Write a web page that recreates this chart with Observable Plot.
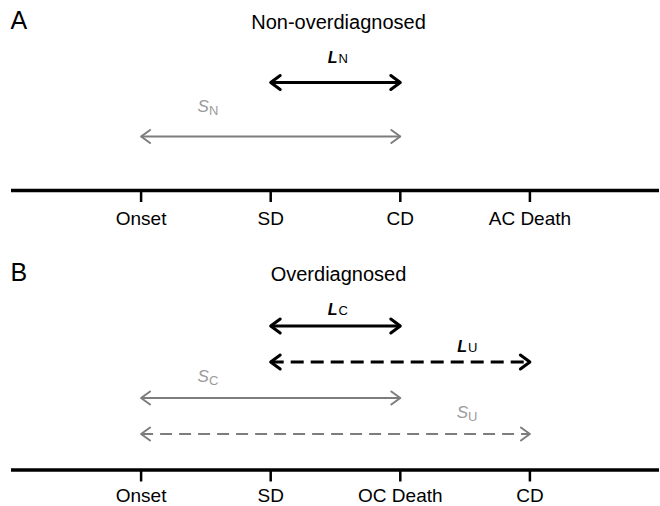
<!DOCTYPE html>
<html>
<head>
<meta charset="utf-8">
<script src="https://cdn.jsdelivr.net/npm/d3@7"></script>
<script src="https://cdn.jsdelivr.net/npm/@observablehq/plot@0.6"></script>
<style>
  html, body { margin: 0; padding: 0; background: #fff; }
  #chart { width: 660px; }
  #chart svg { display: block; }
</style>
</head>
<body>
<div id="chart"></div>
<script>
// ---------- data ----------
const panelLetters = ["A", "B"];
const panelTitles = ["Non-overdiagnosed", "Overdiagnosed"];
const eventPositions = [1, 2, 3, 4];
const eventLabelsA = ["Onset", "SD", "CD", "AC Death"];
const eventLabelsB = ["Onset", "SD", "OC Death", "CD"];

// panel A intervals
const namesA = ["L", "S"];
const subsA = ["N", "N"];
const fromA = [2, 1];
const toA = [3, 3];
const levelA = [3, 1.5];
const labelXA = [2.5, 1.5];
const labelLevelA = [3.53, 2.17];
const kindA = ["L", "S"];
const dashedA = [false, false];

// panel B intervals
const namesB = ["L", "L", "S", "S"];
const subsB = ["C", "U", "C", "U"];
const fromB = [2, 2, 1, 1];
const toB = [3, 4, 3, 4];
const levelB = [4, 3, 2, 1];
const labelXB = [2.5, 3.5, 1.5, 3.5];
const labelLevelB = [4.31, 3.28, 2.44, 1.44];
const kindB = ["L", "L", "S", "S"];
const dashedB = [false, true, false, true];

const titleLevels = [4.5, 5.25];

// ---------- helpers ----------
const UNIT = 36; // px per level
const FONT = "'Liberation Sans', Arial, Helvetica, sans-serif";
const BLACK = "#000";
const GREY = "#7d7d7d";
const GREY_TEXT = "#9b9b9b";

function rows(names, subs, from, to, level, lx, ll, kind, dashed) {
  return names.map((n, i) => ({
    name: n, sub: subs[i], from: from[i], to: to[i], level: level[i],
    labelX: lx[i], labelLevel: ll[i], kind: kind[i], dashed: dashed[i]
  }));
}

function chevron(len, half, width) {
  return (color) => {
    const m = d3.create("svg:marker")
      .attr("viewBox", `${-len - width} ${-half - width} ${len + 2 * width} ${2 * half + 2 * width}`)
      .attr("markerUnits", "userSpaceOnUse")
      .attr("markerWidth", len + 2 * width)
      .attr("markerHeight", 2 * half + 2 * width)
      .attr("refX", 0).attr("refY", 0)
      .attr("orient", "auto-start-reverse")
      .attr("overflow", "visible")
      .attr("fill", "none")
      .attr("stroke", color)
      .attr("stroke-width", width)
      .attr("stroke-dasharray", "none")
      .attr("stroke-linecap", "round")
      .attr("stroke-linejoin", "round");
    m.append("path").attr("d", `M${-len},${-half}L0,0L${-len},${half}`);
    return m.node();
  };
}

const headBlack = chevron(9.5, 7, 3);
const headGrey = chevron(9, 6.5, 2);

function panel(idx, data, eventLabels, height, marginBottom, tickPadding) {
  const top = 0;
  const yMax = (height - marginBottom - top) / UNIT;
  const linkStyle = (kind, dashed) => ({
    x1: "from", x2: "to", y1: "level", y2: "level",
    stroke: kind === "L" ? BLACK : GREY,
    strokeWidth: kind === "L" ? 3 : 2.2,
    strokeDasharray: dashed ? (kind === "L" ? "13,7" : "12,7") : null,
    markerStart: kind === "L" ? headBlack : headGrey,
    markerEnd: kind === "L" ? headBlack : headGrey
  });
  const groups = [];
  for (const kind of ["S", "L"]) {
    for (const dashed of [false, true]) {
      const sub = data.filter(d => d.kind === kind && d.dashed === dashed);
      if (sub.length) groups.push(Plot.link(sub, linkStyle(kind, dashed)));
    }
  }
  const blackLabels = data.filter(d => d.kind === "L");
  const greyLabels = data.filter(d => d.kind === "S");
  return Plot.plot({
    width: 660,
    height,
    marginTop: top,
    marginBottom,
    marginLeft: 11,
    marginRight: 1,
    style: { fontFamily: FONT, background: "#fff", color: "#000" },
    x: { domain: [0, 5] },
    y: { domain: [0, yMax], axis: null },
    marks: [
      Plot.ruleY([0], { x1: 0, x2: 5, stroke: BLACK, strokeWidth: 3.5 }),
      Plot.axisX(eventPositions, {
        tickFormat: d => eventLabels[d - 1],
        tickSize: 12,
        tickPadding,
        strokeWidth: 2.5,
        stroke: BLACK,
        fill: BLACK,
        fontSize: 19,
        label: null
      }),
      ...groups,
      Plot.text(blackLabels, {
        x: "labelX", y: "labelLevel", text: "name",
        textAnchor: "end", lineAnchor: "bottom", dx: 2,
        fontSize: 16, fontWeight: "bold", fontStyle: "italic", fill: BLACK
      }),
      Plot.text(blackLabels, {
        x: "labelX", y: "labelLevel", text: "sub",
        textAnchor: "start", lineAnchor: "bottom", dx: 3,
        fontSize: 13, fill: BLACK
      }),
      Plot.text(greyLabels, {
        x: "labelX", y: "labelLevel", text: "name",
        textAnchor: "end", lineAnchor: "bottom", dx: 3,
        fontSize: 17, fontStyle: "italic", fill: GREY_TEXT
      }),
      Plot.text(greyLabels, {
        x: "labelX", y: "labelLevel", text: "sub",
        textAnchor: "start", lineAnchor: "bottom", dx: 3, dy: 3,
        fontSize: 13, fill: GREY_TEXT
      }),
      Plot.text([panelTitles[idx]], {
        x: 2.5, y: titleLevels[idx], text: d => d,
        textAnchor: "middle", lineAnchor: "bottom", dx: 3,
        fontSize: 20, fill: BLACK
      }),
      Plot.text([panelLetters[idx]], {
        frameAnchor: "left", y: titleLevels[idx], text: d => d,
        textAnchor: "start", lineAnchor: "bottom", dx: -1,
        fontSize: 25, fill: BLACK
      })
    ]
  });
}

const dataA = rows(namesA, subsA, fromA, toA, levelA, labelXA, labelLevelA, kindA, dashedA);
const dataB = rows(namesB, subsB, fromB, toB, levelB, labelXB, labelLevelB, kindB, dashedB);

const chart = document.getElementById("chart");
chart.appendChild(panel(0, dataA, eventLabelsA, 250, 60, 9));
chart.appendChild(panel(1, dataB, eventLabelsB, 256, 36.5, 6));
</script>
</body>
</html>
